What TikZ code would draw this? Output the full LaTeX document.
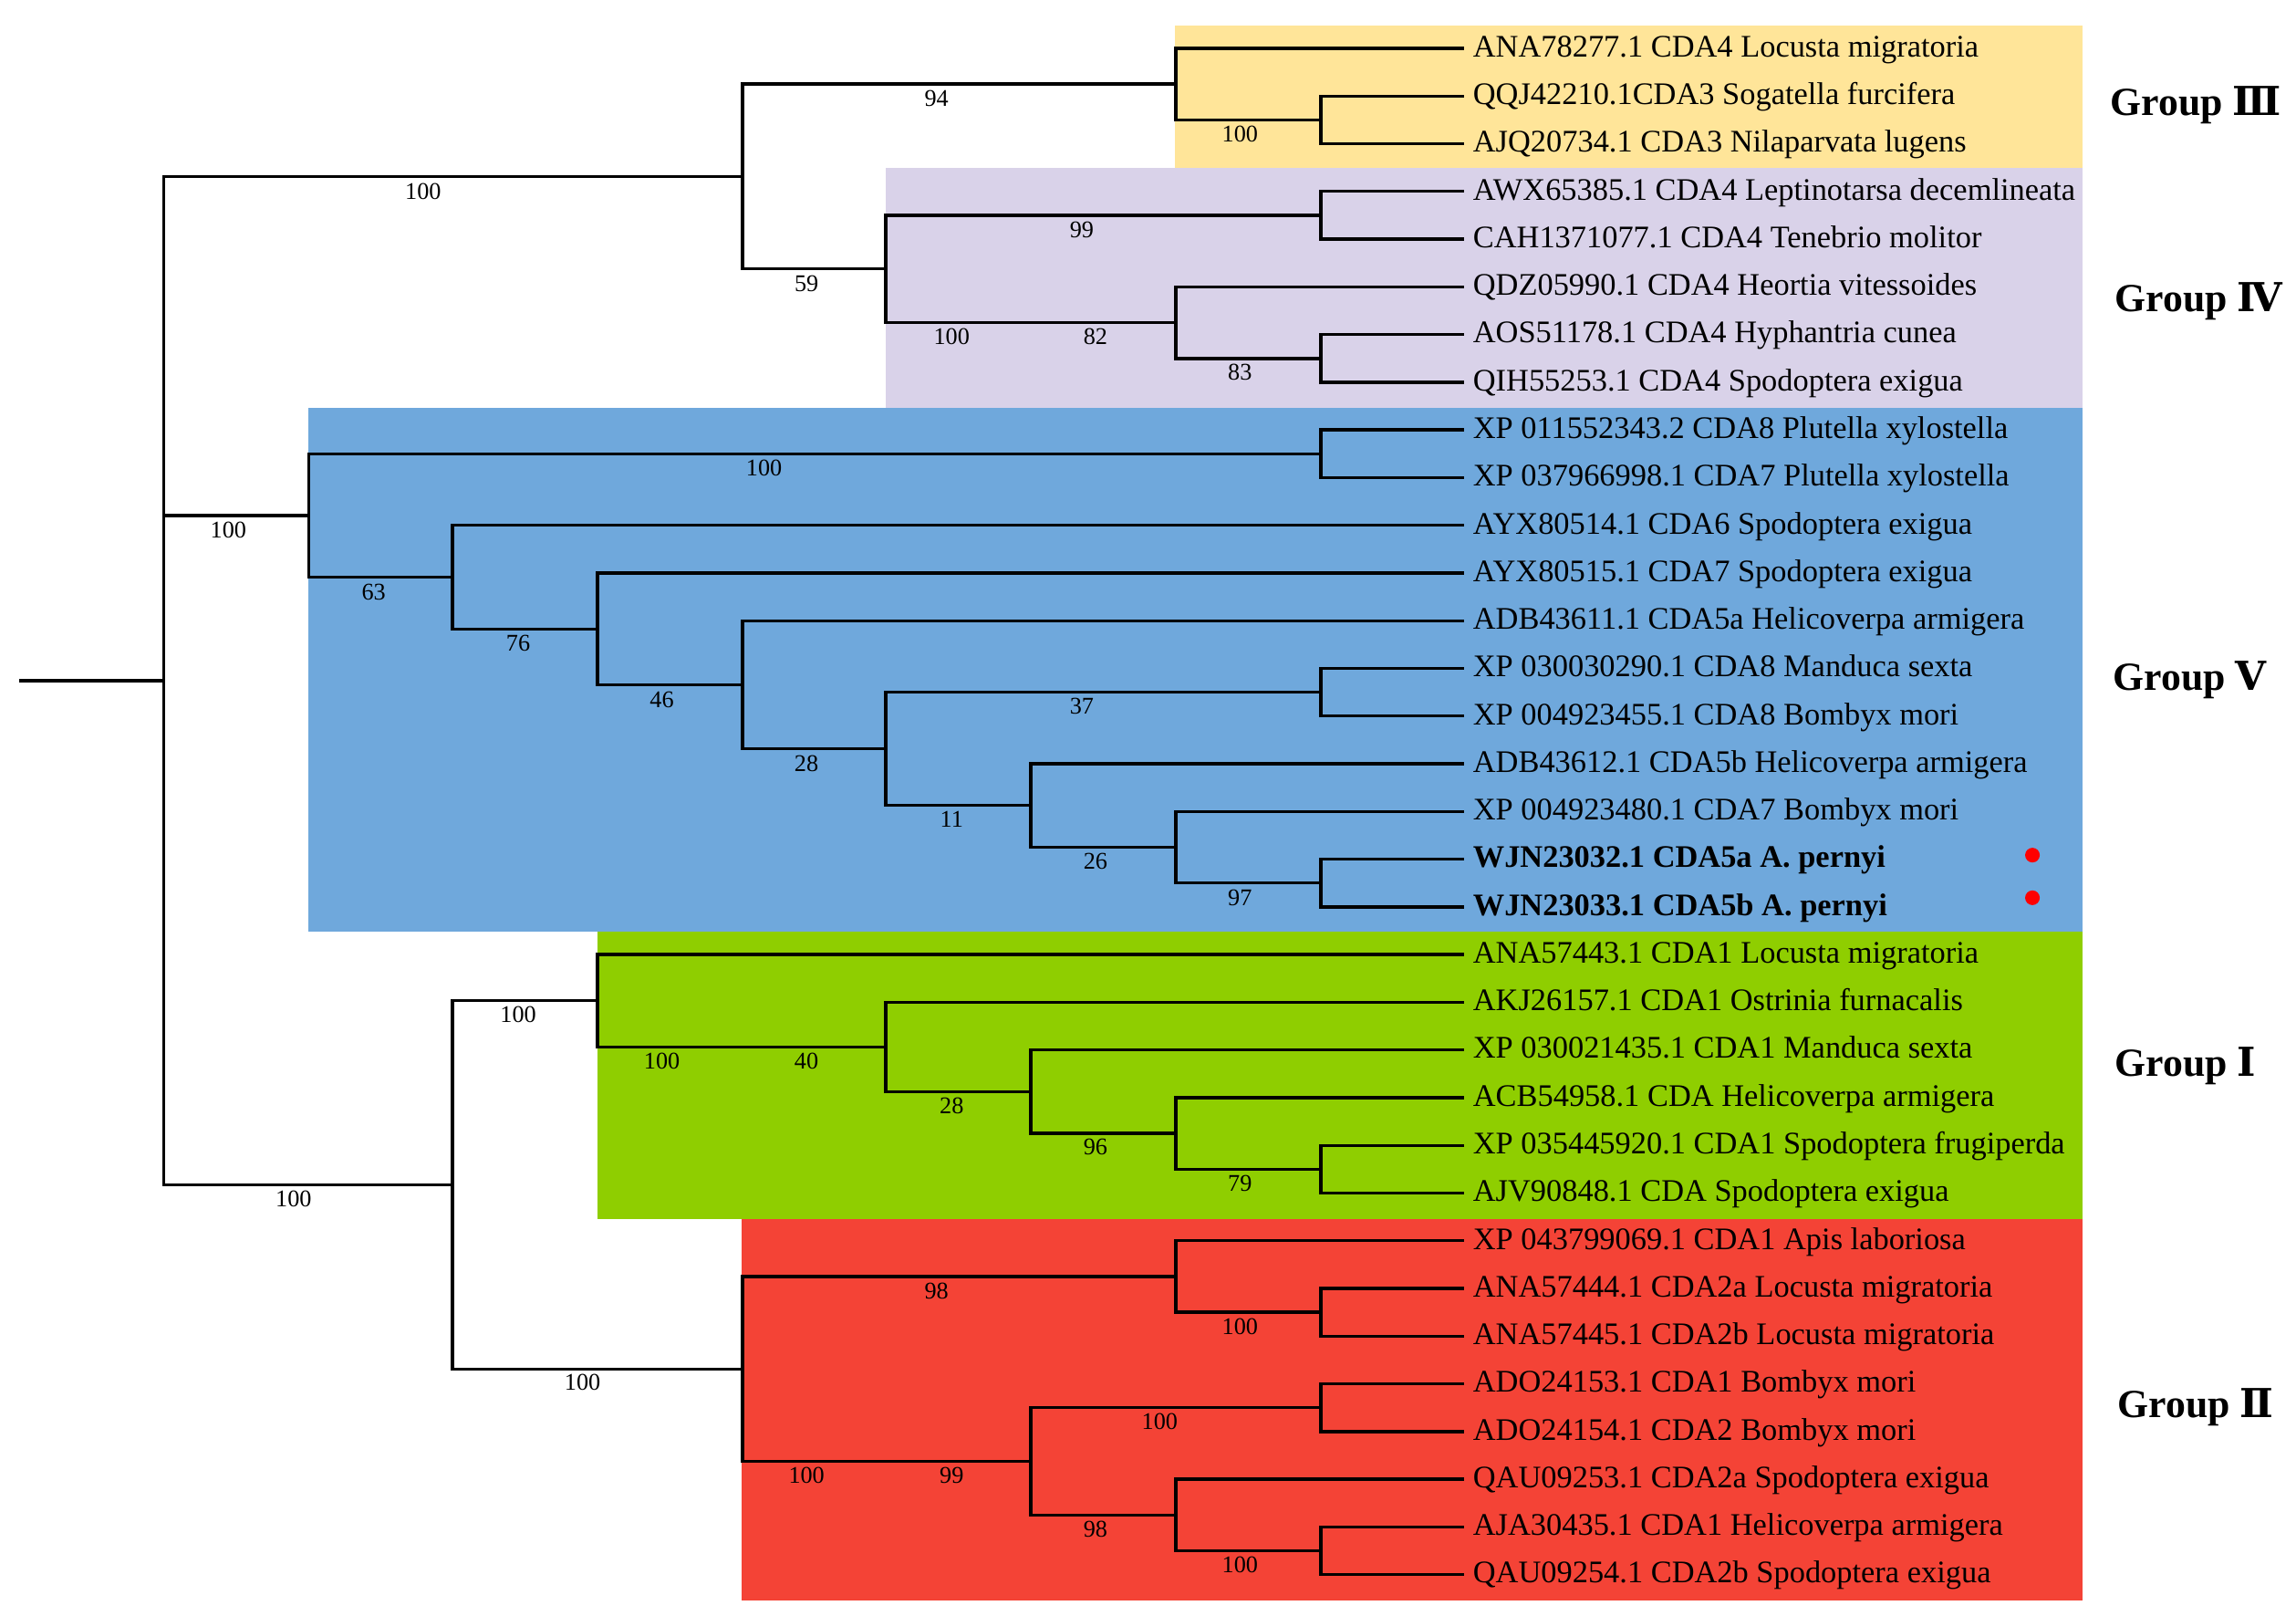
\documentclass[tikz,border=0pt]{standalone}
\usepackage{fontspec}
\setmainfont{Liberation Serif}
\newfontfamily\romfont{DejaVu Serif}
\definecolor{grpIII}{HTML}{FFE599}
\definecolor{grpIV}{HTML}{D9D2E9}
\definecolor{grpV}{HTML}{6FA8DC}
\definecolor{grpI}{HTML}{8FCE00}
\definecolor{grpII}{HTML}{F44336}

\begin{document}
\begin{tikzpicture}[x=0.02cm,y=-0.02cm,
    branch/.style={line width=1.2pt},
    leaf/.style={anchor=west,inner xsep=0.12cm,inner ysep=0pt,outer sep=0pt,
        text height=1.44ex,text depth=0pt,font=\fontsize{12.2}{14}\selectfont},
    bs/.style={inner sep=0pt,font=\fontsize{9.3}{11}\selectfont},
    grp/.style={anchor=west,inner sep=0pt,font=\fontsize{15.5}{18}\selectfont\bfseries},
    dot/.style={circle,fill=red,minimum size=0.2cm,inner sep=0pt}]
    \useasboundingbox (0,0) rectangle (1568,1103);
    \fill[grpIII] (802.5,17.4) rectangle (1422.2,115);
    \fill[grpIV] (605,114.7) rectangle (1422.2,278.3);
    \fill[grpV] (210.8,278.3) rectangle (1422.2,636.3);
    \fill[grpI] (408.1,636.3) rectangle (1422.2,832.2);
    \fill[grpII] (506.3,832.2) rectangle (1422.2,1092.8);

    \foreach \t [count=\i] in {ANA78277.1 CDA4 Locusta migratoria,
        QQJ42210.1CDA3 Sogatella furcifera, AJQ20734.1 CDA3 Nilaparvata lugens,
        AWX65385.1 CDA4 Leptinotarsa decemlineata, CAH1371077.1 CDA4 Tenebrio molitor,
        QDZ05990.1 CDA4 Heortia vitessoides, AOS51178.1 CDA4 Hyphantria cunea,
        QIH55253.1 CDA4 Spodoptera exigua, XP 011552343.2 CDA8 Plutella xylostella,
        XP 037966998.1 CDA7 Plutella xylostella, AYX80514.1 CDA6 Spodoptera exigua,
        AYX80515.1 CDA7 Spodoptera exigua, ADB43611.1 CDA5a Helicoverpa armigera,
        XP 030030290.1 CDA8 Manduca sexta, XP 004923455.1 CDA8 Bombyx mori,
        ADB43612.1 CDA5b Helicoverpa armigera, XP 004923480.1 CDA7 Bombyx mori,
        {\textbf{WJN23032.1 CDA5a A. pernyi}}, {\textbf{WJN23033.1 CDA5b A. pernyi}},
        ANA57443.1 CDA1 Locusta migratoria, AKJ26157.1 CDA1 Ostrinia furnacalis,
        XP 030021435.1 CDA1 Manduca sexta, ACB54958.1 CDA Helicoverpa armigera,
        XP 035445920.1 CDA1 Spodoptera frugiperda, AJV90848.1 CDA Spodoptera exigua,
        XP 043799069.1 CDA1 Apis laboriosa, ANA57444.1 CDA2a Locusta migratoria,
        ANA57445.1 CDA2b Locusta migratoria, ADO24153.1 CDA1 Bombyx mori,
        ADO24154.1 CDA2 Bombyx mori, QAU09253.1 CDA2a Spodoptera exigua,
        AJA30435.1 CDA1 Helicoverpa armigera, QAU09254.1 CDA2b Spodoptera exigua}
        \node[leaf] (l\i) at (1000,{33+32.5625*(\i-1)}) {\t};

    \coordinate (st) at (13,464.7);
    \coordinate (r0) at (112,464.7);
    \coordinate (nA) at (507,120.5);
    \coordinate (n3) at (803,57.4);
    \coordinate (n3b) at (902,81.8);
    \coordinate (n4) at (605,183.6);
    \coordinate (n4a) at (902,147);
    \coordinate (n4b) at (803,220.2);
    \coordinate (n4c) at (902,244.7);
    \coordinate (nV) at (211,351.9);
    \coordinate (nV1) at (902,309.8);
    \coordinate (nV2) at (309,394);
    \coordinate (nV3) at (408,429.4);
    \coordinate (nV4) at (507,467.5);
    \coordinate (nV5) at (605,511.3);
    \coordinate (nV6) at (902,472.6);
    \coordinate (nV7) at (704,549.9);
    \coordinate (nV8) at (803,578.4);
    \coordinate (nV9) at (902,602.8);
    \coordinate (nB) at (309,808.9);
    \coordinate (nI) at (408,683.2);
    \coordinate (nI1) at (605,714.8);
    \coordinate (nI2) at (704,745.3);
    \coordinate (nI3) at (803,773.8);
    \coordinate (nI4) at (902,798.2);
    \coordinate (nII) at (507,934.6);
    \coordinate (nII1) at (803,871.5);
    \coordinate (nII2) at (902,895.9);
    \coordinate (nII3) at (704,997.7);
    \coordinate (nII4) at (902,961);
    \coordinate (nII5) at (803,1034.3);
    \coordinate (nII6) at (902,1058.7);

    \draw[branch] (st) -- (r0);
    \foreach \p/\c in {r0/nA, r0/nV, r0/nB, nA/n3, nA/n4, n3/l1, n3/n3b, n3b/l2, n3b/l3,
        n4/n4a, n4/n4b, n4a/l4, n4a/l5, n4b/l6, n4b/n4c, n4c/l7, n4c/l8,
        nV/nV1, nV/nV2, nV1/l9, nV1/l10, nV2/l11, nV2/nV3, nV3/l12, nV3/nV4,
        nV4/l13, nV4/nV5, nV5/nV6, nV5/nV7, nV6/l14, nV6/l15, nV7/l16, nV7/nV8,
        nV8/l17, nV8/nV9, nV9/l18, nV9/l19, nB/nI, nB/nII,
        nI/l20, nI/nI1, nI1/l21, nI1/nI2, nI2/l22, nI2/nI3, nI3/l23, nI3/nI4,
        nI4/l24, nI4/l25, nII/nII1, nII/nII3, nII1/l26, nII1/nII2, nII2/l27, nII2/l28,
        nII3/nII4, nII3/nII5, nII4/l29, nII4/l30, nII5/l31, nII5/nII6, nII6/l32, nII6/l33}
        \draw[branch] (\p) |- (\c);

    \foreach \x/\y/\t [count=\i] in {289/130.8/100, 639.6/67.5/94, 846.8/91.8/100,
        550.8/193.6/59, 738.8/156.9/99, 649.9/230/100, 748.1/230/82, 846.8/254.4/83,
        156/361.7/100, 521.8/319.5/100, 255.2/404.3/63, 353.9/439.1/76, 452/477.8/46,
        550.7/521.1/28, 738.8/482.2/37, 649.9/559.3/11, 748.1/587.9/26, 846.8/612.9/97,
        353.9/692.8/100, 452/724.3/100, 550.7/724.3/40, 649.9/754.8/28, 748.1/783.1/96,
        846.8/807.8/79, 200.5/818.4/100, 397.8/944/100, 639.6/881.4/98, 846.8/906/100,
        792/970.7/100, 550.8/1007.2/100, 649.9/1007.2/99, 748.1/1044.2/98, 846.8/1068.1/100}
        \node[bs] (b\i) at (\x,\y) {\t};

    \node[dot] (d18) at (1388,583.8) {};
    \node[dot] (d19) at (1388,612.9) {};

    \node[grp] (gIII) at (1441,71.5) {Group {\romfont Ⅲ}};
    \node[grp] (gIV) at (1444,206) {Group {\romfont Ⅳ}};
    \node[grp] (gV) at (1443,464) {Group {\romfont Ⅴ}};
    \node[grp] (gI) at (1444,727.6) {Group {\romfont Ⅰ}};
    \node[grp] (gII) at (1446,960.7) {Group {\romfont Ⅱ}};
\end{tikzpicture}
\end{document}
